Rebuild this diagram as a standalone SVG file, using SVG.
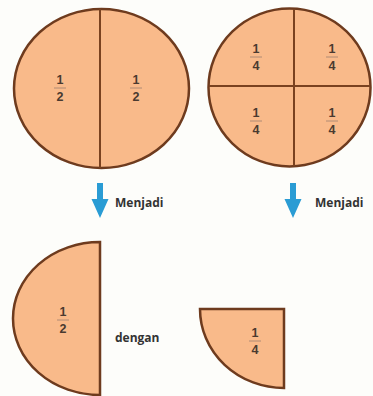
<svg xmlns="http://www.w3.org/2000/svg" width="373" height="396" viewBox="0 0 373 396">
<style>
.shape{fill:#F9BA8A;stroke:#6E3B1E;stroke-width:2.5}
.div{stroke:#7A4220;stroke-width:2;fill:none}
.num{font-family:"Liberation Sans",Arial,sans-serif;font-size:12.5px;font-weight:bold;fill:#4A3A30;text-anchor:middle}
.bar{stroke:#A08070;stroke-width:0.8}
.lbl{font-family:"Open Sans","Liberation Sans",sans-serif;font-size:12px;font-weight:bold;fill:#333333}
.arrow{fill:#2A9CD4}
</style>
<defs>
<g id="half"><text class="num" x="0" y="-4">1</text><line class="bar" x1="-6" y1="0" x2="6" y2="0"/><text class="num" x="0" y="13">2</text></g>
<g id="quarter"><text class="num" x="0" y="-4">1</text><line class="bar" x1="-6" y1="0" x2="6" y2="0"/><text class="num" x="0" y="13">4</text></g>
</defs>
<rect width="373" height="396" fill="#FDFDFA"/>
<g id="circle-halves">
<ellipse class="shape" cx="101.5" cy="88.5" rx="87.5" ry="79.5"/>
<line class="div" x1="100" y1="9" x2="100" y2="168"/>
<use href="#half" x="60" y="88"/>
<use href="#half" x="136" y="88"/>
</g>
<g id="circle-quarters">
<ellipse class="shape" cx="289.5" cy="87.5" rx="81" ry="79"/>
<line class="div" x1="294" y1="9" x2="294" y2="166"/>
<line class="div" x1="209" y1="86" x2="370" y2="86"/>
<use href="#quarter" x="256" y="57"/>
<use href="#quarter" x="332" y="57"/>
<use href="#quarter" x="256" y="121"/>
<use href="#quarter" x="332" y="121"/>
</g>
<g id="connectors">
<polygon class="arrow" points="97,183 103,183 103,199 108.5,199 100,218 91.5,199 97,199"/>
<polygon class="arrow" points="290,183 296,183 296,199 301.5,199 293,218 284.5,199 290,199"/>
</g>
<g id="label-menjadi-1"><text class="lbl" x="115" y="207">Menjadi</text></g>
<g id="label-menjadi-2"><text class="lbl" x="315" y="207">Menjadi</text></g>
<g id="half-piece">
<path class="shape" d="M100,242 A87,76.5 0 0 0 100,395 Z"/>
<use href="#half" x="63" y="320"/>
</g>
<g id="label-dengan"><text class="lbl" x="115" y="342">dengan</text></g>
<g id="quarter-piece">
<path class="shape" d="M200,309 L284,309 L284,388 A84,79 0 0 1 200,309 Z"/>
<use href="#quarter" x="255" y="341"/>
</g>
</svg>
